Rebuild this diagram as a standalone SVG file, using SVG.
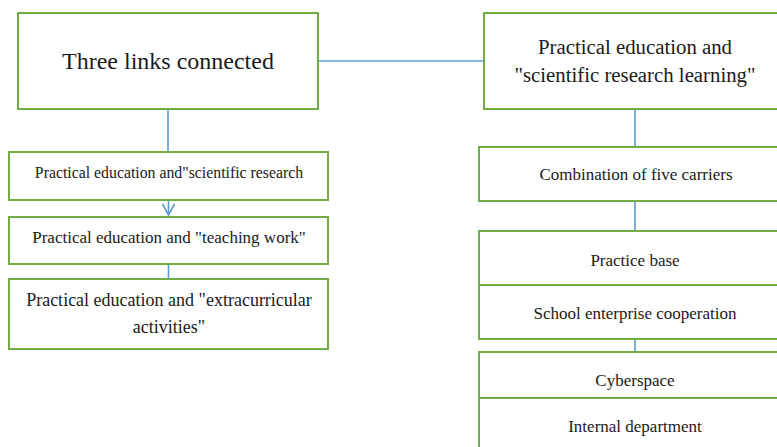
<svg xmlns="http://www.w3.org/2000/svg" width="777" height="447" viewBox="0 0 777 447">
<style>
.box{fill:#fff;stroke:#70AD47;stroke-width:2}
.conn{stroke:#5B9BD5;stroke-width:1.6;fill:none}
text{font-family:'Liberation Serif','DejaVu Serif','Times New Roman',serif;fill:#1a1a1a;text-anchor:middle}
</style>
<defs>
<marker id="vee" markerWidth="14" markerHeight="14" refX="12" refY="7" orient="auto" markerUnits="userSpaceOnUse" viewBox="0 0 14 14">
<path d="M1,1 L12,7 L1,13" fill="none" stroke="#5B9BD5" stroke-width="1.6"/>
</marker>
</defs>
<rect width="777" height="447" fill="#fff"/>
<g id="connectors">
<line class="conn" x1="318" y1="61" x2="484" y2="61"/>
<line class="conn" x1="168" y1="109" x2="168" y2="152"/>
<line class="conn" x1="168.5" y1="200" x2="168.5" y2="215" marker-end="url(#vee)"/>
<line class="conn" x1="168.5" y1="264" x2="168.5" y2="279"/>
<line class="conn" x1="635" y1="109" x2="635" y2="147"/>
<line class="conn" x1="635" y1="201" x2="635" y2="231"/>
<line class="conn" x1="635" y1="339" x2="635" y2="352"/>
</g>
<g id="n1"><rect class="box" x="18" y="13" width="300" height="96"/><text x="168" y="69" font-size="24">Three links connected</text></g>
<g id="n2"><rect class="box" x="484" y="13" width="310" height="96"/><text x="635" y="54" font-size="20.8">Practical education and</text><text x="635" y="82" font-size="20.8">"scientific research learning"</text></g>
<g id="n3"><rect class="box" x="9" y="152" width="319" height="48"/><text x="169" y="178" font-size="15.8">Practical education and"scientific research</text></g>
<g id="n4"><rect class="box" x="9" y="217" width="319" height="47"/><text x="169" y="243" font-size="17">Practical education and "teaching work"</text></g>
<g id="n5"><rect class="box" x="9" y="279" width="319" height="70"/><text x="169" y="306" font-size="18">Practical education and "extracurricular</text><text x="169" y="333" font-size="18">activities"</text></g>
<g id="n6"><rect class="box" x="479" y="147" width="310" height="54"/><text x="636" y="180" font-size="17">Combination of five carriers</text></g>
<g id="n7"><rect class="box" x="479" y="231" width="310" height="54"/><text x="635" y="266" font-size="17">Practice base</text></g>
<g id="n8"><rect class="box" x="479" y="285" width="310" height="54"/><text x="635" y="319" font-size="17">School enterprise cooperation</text></g>
<g id="n9"><rect class="box" x="479" y="352" width="310" height="46"/><text x="635" y="386" font-size="17">Cyberspace</text></g>
<g id="n10"><rect class="box" x="479" y="398" width="310" height="60"/><text x="635" y="432" font-size="17">Internal department</text></g>
</svg>
